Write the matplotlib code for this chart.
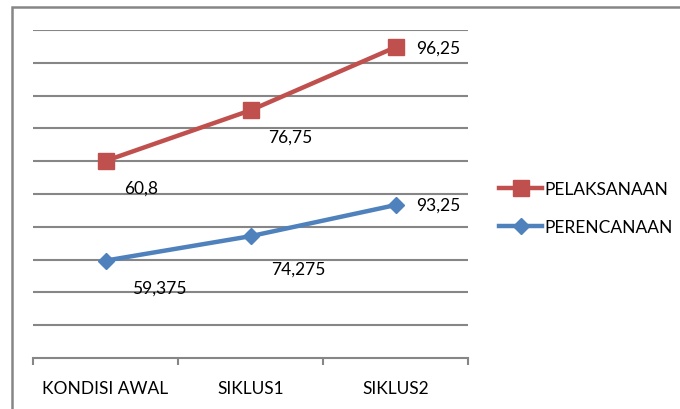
import numpy as np
import matplotlib.pyplot as plt
from matplotlib.patches import Rectangle

categories = ["KONDISI AWAL", "SIKLUS1", "SIKLUS2"]
perencanaan = [59.375, 74.275, 93.25]
pelaksanaan = [60.8, 76.75, 96.25]

plt.rcParams["font.family"] = ["Lato", "DejaVu Sans"]

# stacked line chart (Excel style): second series sits on top of the first
stacked = np.cumsum([perencanaan, pelaksanaan], axis=0)
x = np.arange(len(categories))

fig = plt.figure(figsize=(6.8, 4.1), dpi=100)
ax = fig.add_axes([33 / 680, 1 - 359 / 410, 435 / 680, 328 / 410])

grid_c = "#868686"
blue = "#4F81BD"
red = "#C0504D"

ax.plot(x, stacked[0], color=blue, lw=3.2, marker="D", ms=8, label="PERENCANAAN", zorder=3)
ax.plot(x, stacked[1], color=red, lw=3.2, marker="s", ms=11, label="PELAKSANAAN", zorder=3)

ax.set_xlim(-0.5, len(categories) - 0.5)
ax.set_ylim(0, 200)
ax.set_yticks(np.arange(20, 201, 20))
ax.yaxis.grid(True, color=grid_c, lw=1.5)
ax.tick_params(axis="y", length=0, labelleft=False)
ax.set_axisbelow(True)

for s in ["left", "right", "top"]:
    ax.spines[s].set_visible(False)
ax.spines["bottom"].set_color(grid_c)
ax.spines["bottom"].set_linewidth(1.5)

ax.set_xticks(x)
ax.set_xticklabels(categories, fontsize=12.5)
ax.set_xticks(np.arange(len(categories) + 1) - 0.5, minor=True)
ax.tick_params(axis="x", which="major", length=0, pad=16)
ax.tick_params(axis="x", which="minor", length=5, width=1.5, color=grid_c, direction="out")

# data labels show the original (unstacked) values
blue_off = [(54, -27), (48, -32), (43, 0)]
red_off = [(36, -27), (40, -26), (43, 0)]
for i in range(len(categories)):
    ax.annotate(f"{perencanaan[i]:g}".replace(".", ","), (x[i], stacked[0][i]),
                xytext=blue_off[i], textcoords="offset pixels",
                ha="center", va="center", fontsize=12.5)
    ax.annotate(f"{pelaksanaan[i]:g}".replace(".", ","), (x[i], stacked[1][i]),
                xytext=red_off[i], textcoords="offset pixels",
                ha="center", va="center", fontsize=12.5)

h, l = ax.get_legend_handles_labels()
fig.legend(h[::-1], l[::-1], loc="center left", bbox_to_anchor=(492 / 680, 1 - 209 / 410),
           frameon=False, fontsize=12.5, handlelength=2.5, handletextpad=0.1,
           labelspacing=1.3, borderaxespad=0)

# outer chart border
fig.patches.append(Rectangle((11.5 / 680, -0.1), 1.2, 1.1 - 7.5 / 410 + 0.0,
                             transform=fig.transFigure, fill=False,
                             edgecolor=grid_c, lw=1.8))

fig.savefig("out.png", dpi=100)
